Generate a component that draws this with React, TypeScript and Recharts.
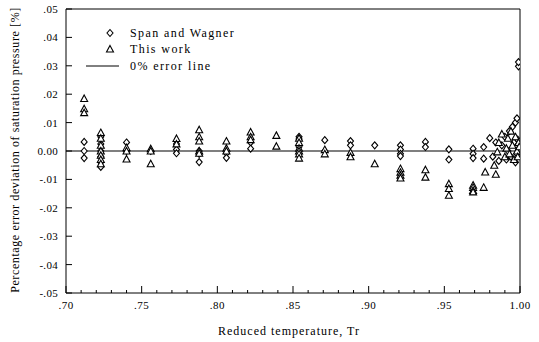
import {
  ScatterChart,
  Scatter,
  XAxis,
  YAxis,
  ReferenceLine,
  Label,
  Customized,
} from "recharts";

// Span and Wagner (diamonds)
const spanTr = [
  0.712, 0.712, 0.712,
  0.723, 0.723, 0.723, 0.723, 0.723, 0.723,
  0.74, 0.74,
  0.756,
  0.773, 0.773, 0.773,
  0.788, 0.788, 0.788,
  0.806, 0.806,
  0.822, 0.822,
  0.854, 0.854, 0.854, 0.854,
  0.871, 0.871,
  0.888, 0.888,
  0.904,
  0.921, 0.921, 0.921, 0.921,
  0.9375, 0.9375,
  0.953, 0.953,
  0.969, 0.969, 0.969,
  0.976, 0.976,
  0.98, 0.982, 0.984, 0.986, 0.988, 0.99, 0.991, 0.992, 0.993, 0.994,
  0.995, 0.996, 0.997, 0.997, 0.998, 0.998, 0.9985, 0.999, 0.999, 0.9995,
];
const spanDev = [
  0.0032, 0.0, -0.0025,
  0.005, 0.0025, 0.0, -0.002, -0.004, -0.0056,
  0.003, 0.0,
  0.0,
  0.0025, 0.0005, -0.0008,
  0.0, -0.001, -0.0039,
  -0.0008, -0.0024,
  0.003, 0.0008,
  0.005, 0.0042, 0.0015, -0.001,
  0.0038, 0.0,
  0.0035, 0.002,
  0.002,
  0.002, 0.0005, -0.001, -0.0018,
  0.0032, 0.0014,
  0.0006, -0.003,
  0.0008, -0.001, -0.0025,
  0.0014, -0.0027,
  0.0045, -0.002, 0.003, -0.0035, 0.002, 0.005, -0.003, 0.0, 0.007, -0.002,
  0.0085, 0.003, 0.01, -0.004, -0.001, 0.0115, 0.004, 0.0298, 0.0313, 0.001,
];

// This work (triangles)
const workTr = [
  0.712, 0.712, 0.712,
  0.723, 0.723, 0.723, 0.723, 0.723, 0.723, 0.723,
  0.74, 0.74, 0.74,
  0.756, 0.756, 0.756,
  0.773, 0.773,
  0.788, 0.788, 0.788, 0.788, 0.788,
  0.806, 0.806, 0.806,
  0.822, 0.822, 0.822,
  0.839, 0.839,
  0.854, 0.854, 0.854, 0.854, 0.854, 0.854,
  0.871, 0.871,
  0.888, 0.888,
  0.904,
  0.921, 0.921, 0.921, 0.921,
  0.9375, 0.9375,
  0.953, 0.953, 0.953,
  0.969, 0.969, 0.969, 0.969,
  0.976, 0.977,
  0.983, 0.984, 0.985, 0.986, 0.988, 0.99, 0.991, 0.992, 0.993, 0.994,
  0.995, 0.996, 0.997, 0.998, 0.9985, 0.999, 0.9995,
];
const workDev = [
  0.0185, 0.0149, 0.0135,
  0.0065, 0.0045, 0.002, 0.0, -0.0015, -0.003, -0.0045,
  0.0012, 0.0, -0.0028,
  0.0008, 0.0, -0.0045,
  0.0044, 0.0025,
  0.0075, 0.005, 0.0035, 0.0, -0.0008,
  0.0035, 0.001, 0.0,
  0.0067, 0.005, 0.004,
  0.0055, 0.0017,
  0.0045, 0.003, 0.001, 0.0, -0.001, -0.0025,
  0.0005, -0.001,
  -0.0005, -0.002,
  -0.0045,
  -0.0062, -0.0075, -0.0085, -0.0095,
  -0.0066, -0.0092,
  -0.0115, -0.0132, -0.0156,
  -0.012, -0.0128, -0.0139, -0.0144,
  -0.0128, -0.0074,
  -0.005, -0.0082, -0.0003, 0.003, 0.006, -0.002, 0.001, 0.0045, -0.001, 0.007,
  0.002, -0.003, 0.005, 0.0, -0.002, 0.003, 0.0015,
];

const xTicks = [
  0.7, 0.71, 0.72, 0.73, 0.74, 0.75, 0.76, 0.77, 0.78, 0.79, 0.8, 0.81, 0.82,
  0.83, 0.84, 0.85, 0.86, 0.87, 0.88, 0.89, 0.9, 0.91, 0.92, 0.93, 0.94, 0.95,
  0.96, 0.97, 0.98, 0.99, 1.0,
];
const yTicks = [-0.05, -0.04, -0.03, -0.02, -0.01, 0, 0.01, 0.02, 0.03, 0.04, 0.05];

const spanData = spanTr.map((tr, i) => ({ tr, dev: spanDev[i] }));
const workData = workTr.map((tr, i) => ({ tr, dev: workDev[i] }));

const FONT = "'Liberation Serif', 'Times New Roman', serif";

function fmt(v: number) {
  if (Math.abs(v) < 1e-9) return "0.00";
  const s = Math.abs(v).toFixed(2).replace(/^0/, "");
  return (v < 0 ? "-" : "") + s;
}

const XTick = (props: any) => {
  const { x, y, payload } = props;
  const v = payload.value;
  const major = Math.round(v * 100) % 5 === 0;
  return (
    <g>
      <line x1={x} y1={y} x2={x} y2={y - (major ? 7 : 3)} stroke="#000" />
      {major && (
        <text x={x} y={y + 16} textAnchor="middle" fontFamily={FONT} fontSize={11} letterSpacing={0.5} fill="#000">
          {fmt(v)}
        </text>
      )}
    </g>
  );
};

const YTick = (props: any) => {
  const { x, y, payload } = props;
  return (
    <g>
      <line x1={x} y1={y} x2={x + 6} y2={y} stroke="#000" />
      <text x={x - 8} y={y + 4} textAnchor="end" fontFamily={FONT} fontSize={11} letterSpacing={0.3} fill="#000">
        {fmt(payload.value)}
      </text>
    </g>
  );
};

const diamond = (cx: number, cy: number) => (
  <polygon
    points={`${cx},${cy - 3.5} ${cx + 3},${cy} ${cx},${cy + 3.5} ${cx - 3},${cy}`}
    fill="#fff"
    stroke="#000"
    strokeWidth={1.1}
  />
);

const triangle = (cx: number, cy: number) => (
  <polygon
    points={`${cx},${cy - 3.5} ${cx + 3.5},${cy + 3} ${cx - 3.5},${cy + 3}`}
    fill="#fff"
    stroke="#000"
    strokeWidth={1.1}
  />
);

const LegendBox = () => (
  <g fontFamily={FONT} fontSize={12} letterSpacing={1.4} fill="#000">
    {diamond(110, 33)}
    <text x={130} y={37}>Span and Wagner</text>
    {triangle(110, 49)}
    <text x={130} y={53}>This work</text>
    <line x1={86} y1={66} x2={119} y2={66} stroke="#000" />
    <text x={130} y={70}>0% error line</text>
  </g>
);

export default function App() {
  return (
    <div style={{ width: 539, height: 342, background: "#fff" }}>
      <style>{`body{margin:0}`}</style>
      <ScatterChart
        width={539}
        height={342}
        margin={{ top: 9, right: 19, bottom: 0, left: 6 }}
      >
        <XAxis
          type="number"
          dataKey="tr"
          domain={[0.7, 1.0]}
          ticks={xTicks}
          interval={0}
          height={49}
          tickSize={0}
          tickMargin={0}
          tickLine={false}
          tick={<XTick />}
          axisLine={{ stroke: "#000" }}
          allowDataOverflow
        >
          <Label
            content={() => (
              <text x={289} y={335} textAnchor="middle" fontFamily={FONT} fontSize={12} letterSpacing={1} fill="#000">
                Reduced temperature,  Tr
              </text>
            )}
          />
        </XAxis>
        <YAxis
          type="number"
          dataKey="dev"
          domain={[-0.05, 0.05]}
          ticks={yTicks}
          interval={0}
          width={60}
          tickSize={0}
          tickMargin={0}
          tickLine={false}
          tick={<YTick />}
          axisLine={{ stroke: "#000" }}
          allowDataOverflow
        >
          <Label
            content={() => (
              <text
                x={0}
                y={0}
                transform="translate(19,150) rotate(-90)"
                textAnchor="middle"
                fontFamily={FONT}
                fontSize={12}
                letterSpacing={0.6}
                fill="#000"
              >
                Percentage error deviation of saturation pressure   [%]
              </text>
            )}
          />
        </YAxis>
        <ReferenceLine y={0.05} stroke="#000" />
        <ReferenceLine x={1.0} stroke="#000" />
        <ReferenceLine y={0} stroke="#000" strokeWidth={1.2} />
        <Scatter
          name="Span and Wagner"
          data={spanData}
          isAnimationActive={false}
          shape={(p: any) => diamond(p.cx, p.cy)}
        />
        <Scatter
          name="This work"
          data={workData}
          isAnimationActive={false}
          shape={(p: any) => triangle(p.cx, p.cy)}
        />
        <Customized component={LegendBox} />
      </ScatterChart>
    </div>
  );
}
